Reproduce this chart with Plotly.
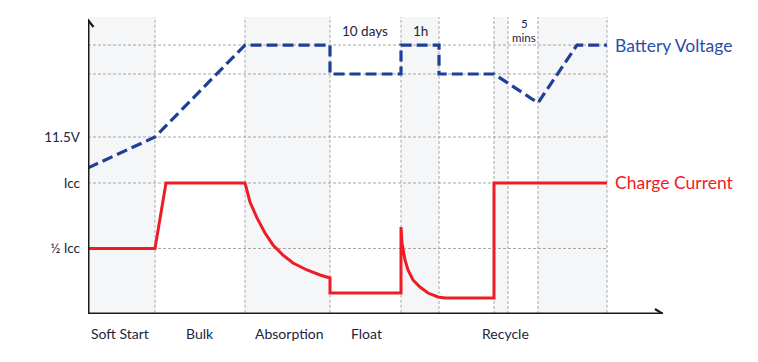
import plotly.graph_objects as go

# ---- data (schematic units: x = time, y = level where Icc = 1) ----
phase_names = ["Soft Start", "Bulk", "Absorption", "Float", "Recycle"]
phase_label_x = [32, 112, 201, 278, 417]
phase_edges = [67, 157, 242, 313, 351, 406, 420, 450, 519]
long_edges = [67, 157, 242, 313, 519]
shaded_bands = [(0, 67), (157, 242), (313, 351), (406, 420), (450, 519)]

grid_levels = [0.5, 1.0, 1.351, 1.832, 2.053]
tick_vals = [0.5, 1.0, 1.351]
tick_text = ["½ Icc", "Icc", "11.5V"]

voltage_x = [0, 67, 157, 242, 242, 313, 313, 351, 351, 406, 450, 489, 519]
voltage_y = [1.115, 1.351, 2.053, 2.053, 1.832, 1.832, 2.053, 2.053, 1.832, 1.832, 1.611, 2.053, 2.053]

current_x = [0, 67, 78, 157, 162, 169, 177, 185, 195, 205, 219, 232, 242, 242, 313, 313,
             314, 317, 320, 325, 332, 340, 350, 357, 406, 406, 519]
current_y = [0.5, 0.5, 1.0, 1.0, 0.855, 0.733, 0.618, 0.527, 0.450, 0.389, 0.336, 0.298, 0.275,
             0.160, 0.160, 0.664, 0.542, 0.412, 0.336, 0.260, 0.206, 0.160, 0.130, 0.122, 0.122,
             1.0, 1.0]

duration_text = ["10 days", "1h"]
duration_x = [277, 332]
mins_text = ["5", "mins"]
mins_x = 436

series_names = ["Battery Voltage", "Charge Current"]
series_label_y = [2.053, 1.0]

# ---- styling ----
FONT = "Lato, Roboto, sans-serif"
BLUE = "#1f3f97"
BLUE_TXT = "#2b4ea9"
RED = "#ee1c25"
GRID = "#a6a6a6"
BAND = "#f5f6f8"
AXIS = "#1a1a1a"
TXT = "#1d2540"

X_MAX = 575
Y_MAX = 2.267
Y_TOP = 2.244      # arrow tip
Y_LOW = -0.22      # bottom of long separators
PX_Y = 1 / 131.0   # one pixel in y units

fig = go.Figure()

fig.add_trace(go.Scatter(x=current_x, y=current_y, mode="lines",
                         line=dict(color=RED, width=3), hoverinfo="skip",
                         showlegend=False, cliponaxis=False))
fig.add_trace(go.Scatter(x=voltage_x, y=voltage_y, mode="lines",
                         line=dict(color=BLUE, width=3.2, dash="11px,5px"),
                         hoverinfo="skip", showlegend=False, cliponaxis=False))

shapes = []
for a, b in shaded_bands:
    shapes.append(dict(type="rect", x0=a, x1=b, y0=0, y1=Y_MAX, xref="x", yref="y",
                       fillcolor=BAND, line=dict(width=0), layer="below"))
for lv in grid_levels:
    shapes.append(dict(type="line", x0=0, x1=phase_edges[-1], y0=lv, y1=lv, xref="x", yref="y",
                       line=dict(color=GRID, width=1, dash="3px,2px"), layer="below"))
for e in phase_edges:
    y0 = Y_LOW if e in long_edges else 0
    shapes.append(dict(type="line", x0=e, x1=e, y0=y0, y1=Y_MAX, xref="x", yref="y",
                       line=dict(color=GRID, width=1, dash="3px,2px"), layer="below"))
# axes with open arrowheads
shapes.append(dict(type="line", x0=0, x1=0, y0=0, y1=Y_TOP, xref="x", yref="y",
                   line=dict(color=AXIS, width=3)))
shapes.append(dict(type="line", x0=0, x1=X_MAX, y0=0, y1=0, xref="x", yref="y",
                   line=dict(color=AXIS, width=3)))
shapes.append(dict(type="path",
                   path=f"M -5.5 {Y_TOP - 7*PX_Y} L 0 {Y_TOP} L 5.5 {Y_TOP - 7*PX_Y}",
                   xref="x", yref="y", line=dict(color=AXIS, width=2.2)))
shapes.append(dict(type="path",
                   path=f"M {X_MAX-8} {5*PX_Y} L {X_MAX} 0 L {X_MAX-8} {-5*PX_Y}",
                   xref="x", yref="y", line=dict(color=AXIS, width=2.2)))

annotations = []
for name, x in zip(phase_names, phase_label_x):
    annotations.append(dict(x=x, y=-0.064, xref="x", yref="paper", text=name, showarrow=False,
                            font=dict(family=FONT, size=14, color=TXT),
                            xanchor="center", yanchor="middle"))
for t, x in zip(duration_text, duration_x):
    annotations.append(dict(x=x, y=2.16, xref="x", yref="y", text=t, showarrow=False,
                            font=dict(family=FONT, size=13.5, color=TXT),
                            xanchor="center", yanchor="middle"))
annotations.append(dict(x=mins_x, y=2.220, xref="x", yref="y", text=mins_text[0], showarrow=False,
                        font=dict(family=FONT, size=11.5, color=TXT), xanchor="center", yanchor="middle"))
annotations.append(dict(x=mins_x, y=2.110, xref="x", yref="y", text=mins_text[1], showarrow=False,
                        font=dict(family=FONT, size=11.5, color=TXT), xanchor="center", yanchor="middle"))
for name, yv, col in zip(series_names, series_label_y, [BLUE_TXT, RED]):
    annotations.append(dict(x=phase_edges[-1] + 6, y=yv, xref="x", yref="y", text=name,
                            showarrow=False, font=dict(family=FONT, size=17.5, color=col),
                            xanchor="left", yanchor="middle"))

# page body adds an 8px offset, so the figure is 8px smaller and margins shifted
fig.update_layout(
    width=750, height=354,
    margin=dict(l=80, r=95, t=9, b=48),
    paper_bgcolor="white", plot_bgcolor="white",
    showlegend=False,
    shapes=shapes, annotations=annotations,
    xaxis=dict(range=[0, X_MAX], showgrid=False, zeroline=False, showline=False,
               showticklabels=False, ticks="", fixedrange=True, automargin=False),
    yaxis=dict(range=[0, Y_MAX], showgrid=False, zeroline=False, showline=False,
               tickvals=tick_vals, ticktext=tick_text, ticks="", ticklabelstandoff=7,
               tickfont=dict(family=FONT, size=13.5, color=TXT), fixedrange=True,
               automargin=False),
)

fig.write_html("out.html")
